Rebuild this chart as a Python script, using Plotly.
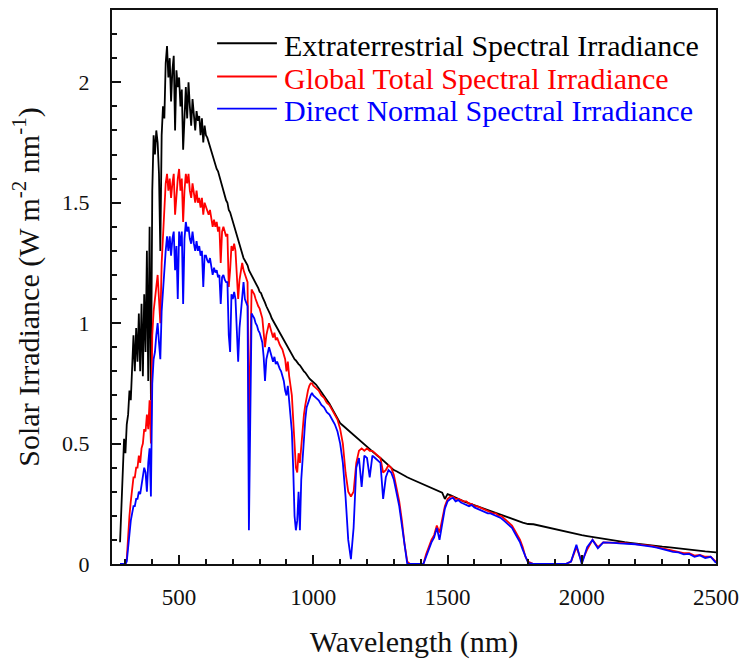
import plotly.graph_objects as go

wl = list(range(280, 1001, 5)) + list(range(1010, 1801, 10)) + list(range(1820, 2501, 20))

series_names = [
    "Extraterrestrial Spectral Irradiance",
    "Global Total Spectral Irradiance",
    "Direct Normal Spectral Irradiance",
]
series_colors = ["#000000", "#ff0000", "#0000ff"]

# Extraterrestrial (W m-2 nm-1)
etr = [
    # 280-325
    0.09, 0.25, 0.40, 0.52, 0.46, 0.58, 0.62, 0.72, 0.68, 0.80,
    # 330-375
    0.95, 0.80, 0.98, 0.84, 1.04, 0.80, 1.08, 0.78, 1.12, 0.88,
    # 380-425
    1.30, 0.76, 1.40, 0.68, 1.55, 1.78, 1.70, 1.80, 1.75, 1.62,
    # 430-475
    1.30, 1.78, 1.90, 1.85, 2.08, 2.15, 2.02, 2.10, 1.92, 2.05,
    # 480-525
    2.11, 1.80, 2.05, 1.98, 2.02, 1.90, 1.97, 1.72, 1.88, 1.98,
    # 530-575
    1.85, 2.00, 1.90, 1.82, 1.93, 1.85, 1.80, 1.88, 1.84, 1.86,
    # 580-600
    1.78, 1.85, 1.75, 1.82, 1.78,
    # 605-650
    1.77, 1.75, 1.74, 1.71, 1.70, 1.68, 1.66, 1.64, 1.63, 1.61,
    # 655-700
    1.58, 1.57, 1.55, 1.53, 1.51, 1.50, 1.47, 1.46, 1.44, 1.42,
    # 705-750
    1.40, 1.39, 1.36, 1.35, 1.33, 1.31, 1.29, 1.27, 1.26, 1.25,
    # 755-800
    1.24, 1.22, 1.21, 1.20, 1.19, 1.18, 1.17, 1.16, 1.145, 1.13,
    # 805-850
    1.125, 1.11, 1.10, 1.085, 1.07, 1.06, 1.045, 1.035, 1.02, 1.01,
    # 855-900
    1.00, 0.99, 0.975, 0.965, 0.955, 0.945, 0.935, 0.925, 0.915, 0.905,
    # 905-950
    0.895, 0.885, 0.875, 0.87, 0.86, 0.85, 0.845, 0.835, 0.83, 0.825,
    # 955-1000
    0.815, 0.81, 0.80, 0.795, 0.785, 0.78, 0.77, 0.765, 0.76, 0.755,
    # 1010-1100
    0.745, 0.73, 0.715, 0.70, 0.68, 0.665, 0.645, 0.625, 0.605, 0.585,
    # 1110-1200
    0.575, 0.565, 0.555, 0.545, 0.535, 0.525, 0.515, 0.505, 0.495, 0.485,
    # 1210-1300
    0.475, 0.465, 0.457, 0.448, 0.44, 0.43, 0.42, 0.41, 0.40, 0.39,
    # 1310-1400
    0.385, 0.378, 0.372, 0.365, 0.36, 0.355, 0.35, 0.343, 0.338, 0.333,
    # 1410-1500
    0.328, 0.323, 0.318, 0.313, 0.308, 0.304, 0.30, 0.296, 0.27, 0.29,
    # 1510-1600
    0.286, 0.28, 0.276, 0.27, 0.265, 0.26, 0.256, 0.25, 0.247, 0.243,
    # 1610-1700
    0.239, 0.235, 0.231, 0.227, 0.223, 0.219, 0.215, 0.211, 0.207, 0.204,
    # 1710-1800
    0.20, 0.196, 0.192, 0.188, 0.184, 0.18, 0.176, 0.172, 0.169, 0.166,
    # 1820-2000
    0.165, 0.16, 0.155, 0.15, 0.145, 0.14, 0.132, 0.128, 0.124, 0.12,
    # 2020-2200
    0.116, 0.112, 0.108, 0.104, 0.10, 0.097, 0.094, 0.091, 0.088, 0.085,
    # 2220-2400
    0.082, 0.08, 0.077, 0.075, 0.072, 0.07, 0.067, 0.065, 0.062, 0.06,
    # 2420-2500
    0.057, 0.055, 0.052, 0.05, 0.048,
]

# Global total (W m-2 nm-1)
glob = [
    # 280-325
    0.0, 0.0, 0.0, 0.0, 0.0, 0.02, 0.12, 0.20, 0.26, 0.30,
    # 330-375
    0.36, 0.36, 0.40, 0.40, 0.45, 0.42, 0.48, 0.50, 0.56, 0.55,
    # 380-425
    0.62, 0.56, 0.68, 0.50, 0.95, 1.05, 1.10, 1.15, 1.20, 1.10,
    # 430-475
    1.00, 1.25, 1.38, 1.45, 1.58, 1.62, 1.55, 1.60, 1.52, 1.58,
    # 480-525
    1.62, 1.45, 1.55, 1.60, 1.64, 1.55, 1.60, 1.42, 1.55, 1.62,
    # 530-575
    1.58, 1.62, 1.55, 1.52, 1.58, 1.54, 1.50, 1.55, 1.50, 1.52,
    # 580-600
    1.48, 1.52, 1.45, 1.50, 1.48,
    # 605-650
    1.46, 1.45, 1.47, 1.44, 1.40, 1.43, 1.40, 1.42, 1.38, 1.40,
    # 655-700
    1.25, 1.38, 1.40, 1.38, 1.36, 1.37, 1.15, 1.22, 1.32, 1.30,
    # 705-750
    1.33, 1.30, 1.20, 1.10, 1.18, 1.22, 1.25, 1.22, 1.20, 1.19,
    # 755-800
    1.17, 0.55, 0.95, 1.14, 1.13, 1.12, 1.10, 1.08, 1.07, 1.06,
    # 805-850
    1.04, 1.02, 0.96, 0.90, 0.95, 0.98, 1.00, 0.98, 0.96, 0.94,
    # 855-900
    0.96, 0.93, 0.94, 0.92, 0.91, 0.90, 0.89, 0.87, 0.85, 0.80,
    # 905-950
    0.84, 0.78, 0.74, 0.70, 0.60, 0.48, 0.40, 0.38, 0.46, 0.42,
    # 955-1000
    0.50, 0.55, 0.62, 0.66, 0.70, 0.72, 0.74, 0.75, 0.75, 0.74,
    # 1010-1100
    0.73, 0.72, 0.70, 0.69, 0.67, 0.66, 0.64, 0.62, 0.60, 0.56,
    # 1110-1200
    0.50, 0.38, 0.30, 0.28, 0.30, 0.42, 0.47, 0.48, 0.47, 0.48,
    # 1210-1300
    0.47, 0.47, 0.46, 0.45, 0.44, 0.38, 0.39, 0.41, 0.40, 0.37,
    # 1310-1400
    0.32, 0.26, 0.18, 0.08, 0.01, 0.0, 0.0, 0.0, 0.0, 0.0,
    # 1410-1500
    0.0, 0.04, 0.07, 0.10, 0.12, 0.16, 0.13, 0.18, 0.24, 0.27,
    # 1510-1600
    0.28, 0.28, 0.27, 0.27, 0.265, 0.26, 0.26, 0.25, 0.25, 0.24,
    # 1610-1700
    0.24, 0.235, 0.23, 0.225, 0.22, 0.215, 0.21, 0.21, 0.20, 0.20,
    # 1710-1800
    0.19, 0.18, 0.17, 0.16, 0.14, 0.12, 0.10, 0.07, 0.03, 0.01,
    # 1820-2000
    0.0, 0.0, 0.0, 0.0, 0.0, 0.0, 0.0, 0.01, 0.07, 0.01,
    # 2020-2200
    0.06, 0.10, 0.07, 0.09, 0.09, 0.09, 0.088, 0.087, 0.085, 0.083,
    # 2220-2400
    0.08, 0.078, 0.075, 0.07, 0.065, 0.06, 0.055, 0.05, 0.045, 0.045,
    # 2420-2500
    0.035, 0.038, 0.03, 0.03, 0.01,
]

# Direct normal (W m-2 nm-1)
direct = [
    # 280-325
    0.0, 0.0, 0.0, 0.0, 0.0, 0.01, 0.08, 0.14, 0.18, 0.21,
    # 330-375
    0.24, 0.24, 0.27, 0.27, 0.30, 0.29, 0.33, 0.35, 0.40, 0.38,
    # 380-425
    0.30, 0.42, 0.48, 0.28, 0.75, 0.85, 0.88, 0.95, 1.00, 0.92,
    # 430-475
    0.85, 1.05, 1.15, 1.20, 1.30, 1.36, 1.30, 1.36, 1.28, 1.35,
    # 480-525
    1.38, 1.22, 1.32, 1.10, 1.38, 1.32, 1.38, 1.08, 1.35, 1.42,
    # 530-575
    1.38, 1.40, 1.35, 1.33, 1.38, 1.33, 1.30, 1.34, 1.30, 1.32,
    # 580-600
    1.28, 1.30, 1.15, 1.28, 1.28,
    # 605-650
    1.26, 1.25, 1.27, 1.24, 1.20, 1.23, 1.21, 1.22, 1.19, 1.20,
    # 655-700
    1.08, 1.19, 1.20, 1.18, 1.17, 1.17, 0.95, 0.88, 1.12, 1.10,
    # 705-750
    1.13, 1.10, 0.98, 0.84, 0.98, 1.05, 1.10, 1.17, 1.10, 1.08,
    # 755-800
    1.07, 0.14, 0.70, 1.04, 1.03, 1.02, 1.00, 0.99, 0.97, 0.96,
    # 805-850
    0.94, 0.92, 0.86, 0.76, 0.85, 0.88, 0.90, 0.88, 0.86, 0.84,
    # 855-900
    0.86, 0.83, 0.84, 0.82, 0.81, 0.80, 0.78, 0.76, 0.72, 0.70,
    # 905-950
    0.74, 0.68, 0.62, 0.55, 0.40, 0.20, 0.14, 0.18, 0.30, 0.14,
    # 955-1000
    0.35, 0.45, 0.55, 0.60, 0.65, 0.67, 0.69, 0.70, 0.71, 0.70,
    # 1010-1100
    0.69, 0.68, 0.66, 0.65, 0.63, 0.62, 0.60, 0.58, 0.55, 0.50,
    # 1110-1200
    0.42, 0.28, 0.10, 0.02, 0.15, 0.40, 0.44, 0.32, 0.45, 0.44,
    # 1210-1300
    0.36, 0.45, 0.44, 0.43, 0.42, 0.27, 0.36, 0.39, 0.38, 0.35,
    # 1310-1400
    0.30, 0.24, 0.16, 0.07, 0.0, 0.0, 0.0, 0.0, 0.0, 0.0,
    # 1410-1500
    0.0, 0.03, 0.06, 0.09, 0.11, 0.15, 0.10, 0.17, 0.23, 0.26,
    # 1510-1600
    0.27, 0.275, 0.26, 0.265, 0.255, 0.25, 0.245, 0.24, 0.245, 0.235,
    # 1610-1700
    0.23, 0.225, 0.22, 0.215, 0.21, 0.21, 0.205, 0.20, 0.195, 0.19,
    # 1710-1800
    0.18, 0.17, 0.16, 0.15, 0.13, 0.11, 0.09, 0.06, 0.03, 0.005,
    # 1820-2000
    0.0, 0.0, 0.0, 0.0, 0.0, 0.0, 0.0, 0.01, 0.08, 0.0,
    # 2020-2200
    0.07, 0.10, 0.065, 0.09, 0.09, 0.088, 0.086, 0.085, 0.083, 0.082,
    # 2220-2400
    0.078, 0.076, 0.072, 0.068, 0.062, 0.058, 0.05, 0.048, 0.04, 0.042,
    # 2420-2500
    0.03, 0.036, 0.025, 0.03, 0.005,
]

x_tickvals = [500, 1000, 1500, 2000, 2500]
x_ticktext = ["500", "1000", "1500", "2000", "2500"]
y_tickvals = [0, 0.5, 1, 1.5, 2]
y_ticktext = ["0", "0.5", "1", "1.5", "2"]

FONT = "Liberation Serif"

fig = go.Figure()
for name, color, vals in zip(series_names, series_colors, [etr, glob, direct]):
    fig.add_trace(go.Scatter(
        x=wl, y=vals, mode="lines", name=name,
        line=dict(color=color, width=1.8),
        showlegend=False,
    ))

# Manual legend (key lines + coloured labels) in paper coordinates
legend_rows_y = [0.940, 0.880, 0.822]
for name, color, yy in zip(series_names, series_colors, legend_rows_y):
    fig.add_shape(type="line", xref="paper", yref="paper",
                  x0=0.174, x1=0.273, y0=yy, y1=yy,
                  line=dict(color=color, width=1.8))
    fig.add_annotation(xref="paper", yref="paper", x=0.2815, y=yy - 0.004,
                       xanchor="left", yanchor="middle", showarrow=False,
                       text=name, font=dict(family=FONT, size=30, color=color))

fig.update_layout(
    width=740, height=659,
    margin=dict(l=112, r=24, t=10, b=95),
    paper_bgcolor="white", plot_bgcolor="white",
    font=dict(family=FONT, color="#111111"),
    showlegend=False,
)
fig.update_xaxes(
    range=[250, 2500], tickvals=x_tickvals, ticktext=x_ticktext,
    ticks="inside", ticklen=9, tickwidth=2, tickcolor="#111111",
    minor=dict(dtick=100, tick0=0, ticks="inside", ticklen=5, tickwidth=2, tickcolor="#111111"),
    showline=True, linewidth=2, linecolor="#111111", mirror=True,
    showgrid=False, zeroline=False, automargin=False,
    tickfont=dict(family=FONT, size=23, color="#111111"),
    ticklabelstandoff=11,
    title=dict(text="Wavelength (nm)", font=dict(family=FONT, size=30, color="#111111"), standoff=34),
)
fig.update_yaxes(
    range=[0, 2.3], tickvals=y_tickvals, ticktext=y_ticktext,
    ticks="inside", ticklen=9, tickwidth=2, tickcolor="#111111",
    minor=dict(dtick=0.1, tick0=0, ticks="inside", ticklen=5, tickwidth=2, tickcolor="#111111"),
    showline=True, linewidth=2, linecolor="#111111", mirror=True,
    showgrid=False, zeroline=False, automargin=False,
    tickfont=dict(family=FONT, size=22, color="#111111"),
    ticklabelstandoff=16,
    title=dict(text="Solar Irradiance (W m<sup>-2</sup> nm<sup>-1</sup>)",
               font=dict(family=FONT, size=30, color="#111111"), standoff=14),
)

fig.write_html("out.html")
